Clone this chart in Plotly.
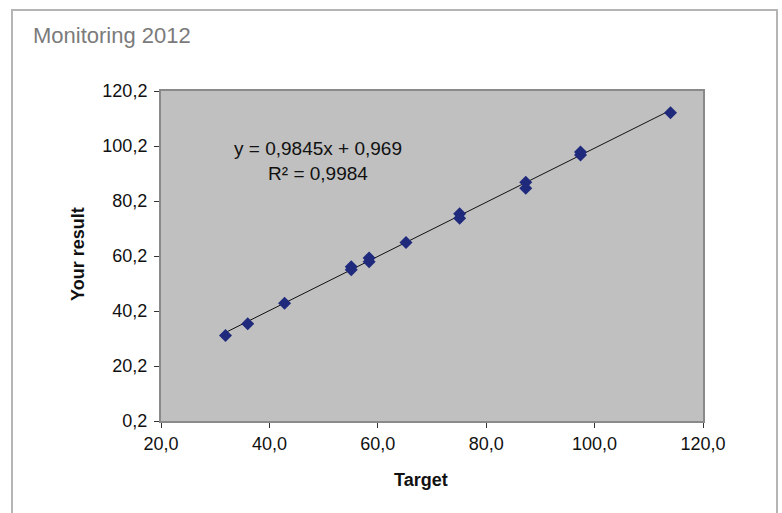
import plotly.graph_objects as go

# Monitoring 2012: laboratory result vs. target value
target = [31.9, 36.0, 42.8, 55.1, 55.1, 58.4, 58.4, 65.2, 75.1, 75.1, 87.3, 87.3, 97.4, 97.4, 114.0]
your_result = [31.3, 35.6, 43.0, 56.3, 55.2, 59.5, 58.1, 65.1, 75.6, 73.9, 87.0, 84.8, 98.0, 96.9, 112.3]

# linear trend reported on the chart
slope = 0.9845
intercept = 0.969
r_squared = 0.9984

x_ticks = [20, 40, 60, 80, 100, 120]
x_tick_labels = ["20,0", "40,0", "60,0", "80,0", "100,0", "120,0"]
y_ticks = [0.2, 20.2, 40.2, 60.2, 80.2, 100.2, 120.2]
y_tick_labels = ["0,2", "20,2", "40,2", "60,2", "80,2", "100,2", "120,2"]

W, H = 782, 513
L, R, T, B = 161, 703, 91, 421  # plot area in pixels
pw, ph = R - L, B - T

def px_x(p):
    return (p - L) / pw

def px_y(p):
    return (B - p) / ph

FONT = "Liberation Sans, Arial, sans-serif"

fig = go.Figure()

trend_x = [min(target), max(target)]
trend_y = [slope * v + intercept for v in trend_x]
fig.add_trace(go.Scatter(
    x=trend_x, y=trend_y, mode="lines",
    line=dict(color="#111111", width=1), hoverinfo="skip", showlegend=False,
))
fig.add_trace(go.Scatter(
    x=target, y=your_result, mode="markers",
    marker=dict(symbol="diamond", size=10, color="#1f2a7c",
                line=dict(width=0)),
    showlegend=False,
))

def fmt(v, nd):
    return f"{v:.{nd}f}".replace(".", ",")

axis_common = dict(
    showgrid=False, zeroline=False,
    showline=True, linecolor="#8a8a8a", linewidth=2, mirror=True,
    ticks="outside", ticklen=5, tickwidth=1, tickcolor="#333333",
    tickfont=dict(family=FONT, size=18, color="#111111"),
)

fig.update_layout(
    width=W, height=H,
    margin=dict(l=L, r=W - R, t=T, b=H - B, pad=0),
    paper_bgcolor="white", plot_bgcolor="#c0c0c0",
    xaxis=dict(range=[20, 120], tickvals=x_ticks, ticktext=x_tick_labels, **axis_common),
    yaxis=dict(range=[0.2, 120.2], tickvals=y_ticks, ticktext=y_tick_labels,
               ticklabelstandoff=3, **axis_common),
    shapes=[
        # outer card frame
        dict(type="rect", xref="paper", yref="paper",
             x0=px_x(12), x1=px_x(777), y0=px_y(530), y1=px_y(10),
             line=dict(color="#b5b5b5", width=2), fillcolor="rgba(0,0,0,0)", layer="below"),
    ],
    annotations=[
        dict(text="Monitoring 2012", xref="paper", yref="paper",
             x=px_x(31), y=px_y(35), xanchor="left", yanchor="middle",
             showarrow=False, font=dict(family=FONT, size=22, color="#7b7b7b")),
        dict(text=f"y = {fmt(slope, 4)}x + {fmt(intercept, 3)}<br>R² = {fmt(r_squared, 4)}",
             xref="paper", yref="paper", x=px_x(318), y=px_y(161),
             xanchor="center", yanchor="middle", align="center", showarrow=False,
             font=dict(family=FONT, size=19, color="#111111")),
        dict(text="<b>Target</b>", xref="paper", yref="paper",
             x=px_x(421), y=px_y(480), xanchor="center", yanchor="middle",
             showarrow=False, font=dict(family=FONT, size=18, color="#111111")),
        dict(text="<b>Your result</b>", xref="paper", yref="paper", textangle=-90,
             x=px_x(78), y=px_y(254), xanchor="center", yanchor="middle",
             showarrow=False, font=dict(family=FONT, size=18, color="#111111")),
    ],
)

fig.write_html("out.html")
